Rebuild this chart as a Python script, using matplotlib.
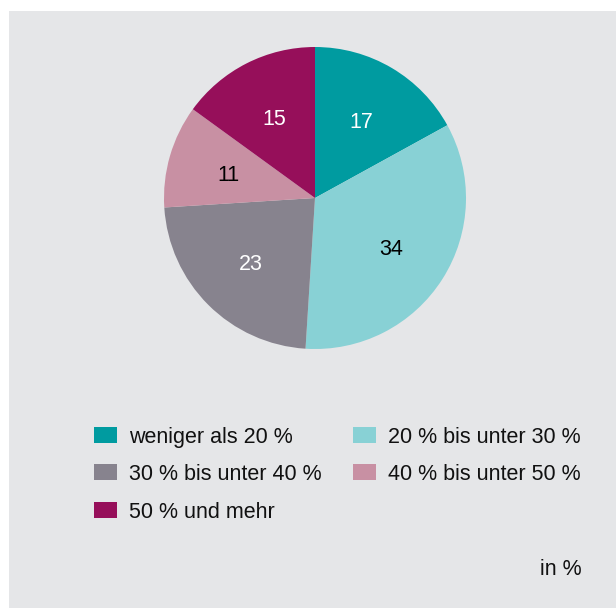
import matplotlib.pyplot as plt
from matplotlib.patches import Rectangle

plt.rcParams['font.family'] = ['Liberation Sans', 'DejaVu Sans']

# Anteile in %
labels = ['weniger als 20 %', '20 % bis unter 30 %', '30 % bis unter 40 %',
          '40 % bis unter 50 %', '50 % und mehr']
values = [17, 34, 23, 11, 15]
colors = ['#009ba0', '#88d1d5', '#87838e', '#c890a3', '#960f5a']
text_colors = ['white', 'black', 'white', 'black', 'white']

W, H = 616, 608
fig = plt.figure(figsize=(W / 100, H / 100), dpi=100)
fig.patch.set_facecolor('white')

# grauer Hintergrund
fig.patches.append(Rectangle((9 / W, 0), 1 - 9 / W, 1 - 11 / H,
                             transform=fig.transFigure, facecolor='#e5e6e8',
                             edgecolor='none', zorder=-5))

# Kreisdiagramm
cx, cy, r = 315, 198, 151
ax = fig.add_axes([(cx - r) / W, (H - cy - r) / H, 2 * r / W, 2 * r / H])
ax.set_zorder(2)
ax.patch.set_alpha(0)
wedges, texts = ax.pie(values, colors=colors, startangle=90, counterclock=False,
                       labels=[str(v) for v in values], labeldistance=0.6,
                       wedgeprops=dict(linewidth=0))
for t, c in zip(texts, text_colors):
    t.set_color(c)
    t.set_fontsize(15.5)
    t.set_ha('center')
    t.set_va('center_baseline')
ax.set_xlim(-1, 1)
ax.set_ylim(-1, 1)
ax.set_aspect('equal')
ax.axis('off')

# Legende
col_x = [94, 353]
row_y = [435, 472, 510]
for i, (lab, col) in enumerate(zip(labels, colors)):
    x = col_x[i % 2]
    y = row_y[i // 2]
    fig.patches.append(Rectangle((x / W, (H - y - 8) / H), 23 / W, 16 / H,
                                 transform=fig.transFigure, facecolor=col,
                                 edgecolor='none', zorder=1))
    fig.text((x + 35) / W, (H - y) / H, lab, fontsize=15.5, color='#111111',
             ha='left', va='center_baseline')

fig.text(582 / W, (H - 567) / H, 'in %', fontsize=15.5, color='#111111',
         ha='right', va='center_baseline')

fig.savefig('out.png', dpi=100, facecolor=fig.get_facecolor())
